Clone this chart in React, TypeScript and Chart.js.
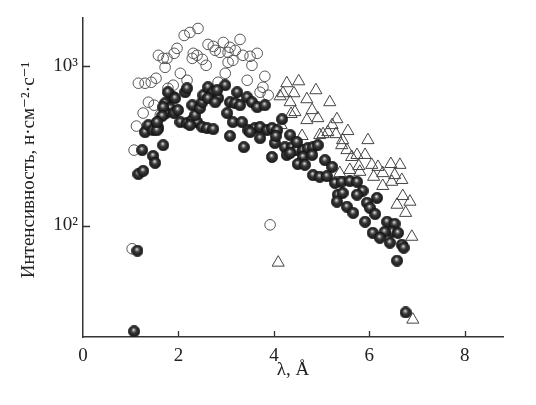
import React, { useEffect, useRef } from "react";
import { Chart, registerables } from "chart.js";

Chart.register(...registerables);

// [λ (Å), intensity]
const openCircles: [number, number][] = [
  [2.41, 1720], [2.24, 1624], [2.12, 1555], [1.97, 1290], [1.91, 1201], [1.58, 1167], [1.68, 1117],
  [1.76, 1117], [1.72, 981], [2.62, 1366], [2.77, 1253], [2.94, 1406], [3.29, 1468], [2.31, 1201],
  [2.29, 1117], [2.39, 1167], [2.5, 1101], [2.58, 1010], [2.87, 1218], [3.04, 1218], [3.19, 1253],
  [3.35, 1167], [3.5, 1150], [3.65, 1201], [3.14, 1085], [3.54, 1010], [2.04, 900], [2.18, 814],
  [1.89, 758], [1.78, 725], [2.98, 900], [2.83, 791], [3.44, 814], [3.81, 862], [3.77, 736],
  [3.88, 656], [3.71, 685], [1.16, 780], [1.3, 780], [1.43, 791], [1.53, 838], [1.37, 593],
  [1.49, 568], [1.62, 492], [1.26, 507], [1.12, 420], [1.07, 297], [1.03, 71.5], [3.92, 101],
  [2.73, 1328], [3.08, 1309], [3.04, 1055],
];

const filledSpheres: [number, number][] = [
  [1.07, 21.7], [1.14, 69.5], [1.16, 210], [1.26, 220], [1.24, 297], [1.47, 273], [1.51, 247],
  [1.68, 319], [1.3, 385], [1.37, 426], [1.47, 396], [1.58, 408], [1.72, 585], [1.83, 544],
  [1.74, 507], [1.91, 507], [1.99, 529], [1.89, 637], [1.78, 685], [1.93, 628], [2.14, 685],
  [2.18, 725], [2.04, 445], [2.18, 438], [2.29, 458], [2.39, 445], [2.24, 426], [2.5, 414],
  [2.6, 408], [2.73, 402], [2.29, 568], [2.35, 492], [2.45, 544], [2.5, 593], [2.52, 656],
  [2.62, 736], [2.73, 685], [2.83, 628], [2.62, 628], [2.98, 758], [2.77, 593], [2.81, 705],
  [3.23, 685], [3.08, 593], [3.19, 585], [3.29, 568], [3.44, 637], [3.54, 593], [3.65, 552],
  [3.81, 568], [3.02, 507], [3.14, 445], [3.33, 445], [3.46, 396], [3.6, 408], [3.71, 414],
  [3.86, 396], [3.96, 408], [4.07, 396], [3.08, 364], [3.37, 310], [3.96, 269], [4.02, 329],
  [3.71, 353], [3.5, 385], [4.17, 464], [4.34, 369], [4.04, 364], [4.23, 310], [4.38, 310],
  [4.48, 297], [4.61, 297], [4.71, 306], [4.82, 310], [4.92, 319], [4.61, 269], [4.5, 243],
  [4.65, 240], [4.8, 277], [5.07, 257], [5.22, 233], [4.82, 207], [4.96, 202], [5.11, 204],
  [5.28, 185], [5.42, 188], [5.59, 190], [5.74, 188], [5.86, 165], [5.34, 156], [5.44, 160],
  [5.32, 141], [5.74, 156], [6.16, 149], [5.53, 131], [5.66, 120], [5.95, 139], [6.01, 129],
  [6.12, 118], [5.91, 105.5], [6.37, 105.5], [6.53, 102.5], [6.47, 91.3], [6.6, 90], [6.32, 91.3],
  [6.07, 90], [6.22, 83.8], [6.43, 78], [6.68, 75.8], [6.72, 72.6], [6.58, 60.2], [6.76, 28.5],
  [4.27, 277], [4.48, 334], [4.34, 285], [1.68, 552], [1.55, 396], [1.66, 486], [1.55, 445],
];

const openTriangles: [number, number][] = [
  [4.27, 780], [4.52, 802], [4.19, 675], [4.42, 675], [4.88, 705], [4.34, 593], [4.69, 619],
  [5.17, 593], [4.44, 514], [4.8, 529], [4.69, 458], [4.92, 471], [5.32, 464], [4.15, 426],
  [4.59, 364], [5.22, 426], [5.13, 385], [5.03, 374], [4.96, 369], [5.3, 374], [5.55, 391],
  [5.44, 343], [5.42, 319], [5.97, 343], [5.53, 297], [5.63, 269], [5.74, 277], [5.91, 277],
  [5.78, 236], [6.05, 240], [6.18, 233], [6.45, 243], [6.64, 240], [6.28, 213], [6.53, 207],
  [6.09, 202], [6.68, 193], [5.8, 217], [6.47, 188], [5.38, 213], [6.28, 177], [6.7, 153],
  [6.85, 141], [6.58, 135], [6.76, 120], [6.89, 85], [4.09, 58.5], [6.91, 25.7], [4.13, 646],
  [4.36, 500], [5.59, 223],
];

const xTicks = [0, 2, 4, 6, 8];
const yTicks = [100, 1000];
const yTickLabels = ["10²", "10³"];
const xTitle = "λ, Å";
const yTitle = "Интенсивность, н·см⁻²·с⁻¹";

const SERIF = "'Liberation Serif', 'DejaVu Serif', 'Times New Roman', serif";

function makeSphere(): HTMLCanvasElement {
  const c = document.createElement("canvas");
  c.width = 12;
  c.height = 12;
  const ctx = c.getContext("2d")!;
  const g = ctx.createRadialGradient(5.4, 4.3, 0.2, 6, 6, 6);
  g.addColorStop(0, "#e6e6e6");
  g.addColorStop(0.16, "#999");
  g.addColorStop(0.42, "#383838");
  g.addColorStop(1, "#141414");
  ctx.beginPath();
  ctx.arc(6, 6, 5.7, 0, Math.PI * 2);
  ctx.fillStyle = g;
  ctx.fill();
  ctx.lineWidth = 0.6;
  ctx.strokeStyle = "#111";
  ctx.stroke();
  return c;
}

const decorations = {
  id: "decorations",
  afterDraw(chart: any) {
    const { ctx, chartArea } = chart;
    const xs = chart.scales.x;
    const ys = chart.scales.y;
    ctx.save();
    ctx.strokeStyle = "#333";
    ctx.lineWidth = 1.3;
    ctx.beginPath();
    xTicks.forEach((v) => {
      if (v === 0) return;
      const px = Math.round(xs.getPixelForValue(v)) + 0.5;
      ctx.moveTo(px, chartArea.bottom);
      ctx.lineTo(px, chartArea.bottom - 6);
    });
    yTicks.forEach((v) => {
      const py = Math.round(ys.getPixelForValue(v)) + 0.5;
      ctx.moveTo(chartArea.left, py);
      ctx.lineTo(chartArea.left + 7, py);
    });
    ctx.stroke();
    // y-axis title
    ctx.translate(29, 170);
    ctx.rotate(-Math.PI / 2);
    ctx.fillStyle = "#222";
    ctx.font = `19px ${SERIF}`;
    ctx.textAlign = "center";
    ctx.textBaseline = "middle";
    ctx.fillText(yTitle, 0, 0);
    ctx.restore();
  },
};

export default function App() {
  const ref = useRef<HTMLCanvasElement>(null);
  useEffect(() => {
    if (!ref.current) return;
    const sphere = makeSphere();
    const toPts = (arr: [number, number][]) => arr.map(([x, y]) => ({ x, y }));
    const chart = new Chart(ref.current, {
      type: "scatter",
      data: {
        datasets: [
          {
            data: toPts(filledSpheres),
            pointStyle: sphere as any,
            pointRadius: 5.7,
          },
          {
            data: toPts(openTriangles),
            pointStyle: "triangle",
            pointRadius: 7,
            borderColor: "#444",
            borderWidth: 1,
            backgroundColor: "rgba(0,0,0,0)",
          },
          {
            data: toPts(openCircles),
            pointStyle: "circle",
            pointRadius: 5.3,
            borderColor: "#555",
            borderWidth: 1,
            backgroundColor: "rgba(0,0,0,0)",
          },
        ],
      },
      options: {
        responsive: false,
        animation: false,
        layout: { padding: { left: 0, top: 18, right: 33, bottom: 0 } },
        plugins: { legend: { display: false }, tooltip: { enabled: false } },
        scales: {
          x: {
            type: "linear",
            min: 0,
            max: 8.8,
            afterBuildTicks: (s: any) => {
              s.ticks = xTicks.map((v) => ({ value: v }));
            },
            afterFit: (s: any) => {
              s.height = 68;
            },
            grid: { display: false, drawTicks: false },
            border: { display: true, color: "#333", width: 1.5 },
            ticks: {
              color: "#222",
              font: { family: SERIF, size: 19 },
              padding: 8,
              maxRotation: 0,
              autoSkip: false,
            },
            title: {
              display: true,
              text: xTitle,
              color: "#222",
              font: { family: SERIF, size: 19 },
              padding: { top: 0, bottom: 24 },
            },
          },
          y: {
            type: "logarithmic",
            min: 20,
            max: 2000,
            afterBuildTicks: (s: any) => {
              s.ticks = yTicks.map((v) => ({ value: v }));
            },
            afterFit: (s: any) => {
              s.width = 83;
            },
            grid: { display: false, drawTicks: false },
            border: { display: true, color: "#333", width: 1.5 },
            ticks: {
              color: "#222",
              font: { family: SERIF, size: 19 },
              padding: 5,
              autoSkip: false,
              callback: (v: any) => {
                const i = yTicks.indexOf(Number(v));
                return i >= 0 ? yTickLabels[i] : "";
              },
            },
            title: { display: false },
          },
        },
      },
      plugins: [decorations],
    });
    return () => chart.destroy();
  }, []);
  return (
    <canvas
      ref={ref}
      width={536}
      height={405}
      style={{ position: "absolute", left: 0, top: 0, display: "block", background: "#fff" }}
    />
  );
}
